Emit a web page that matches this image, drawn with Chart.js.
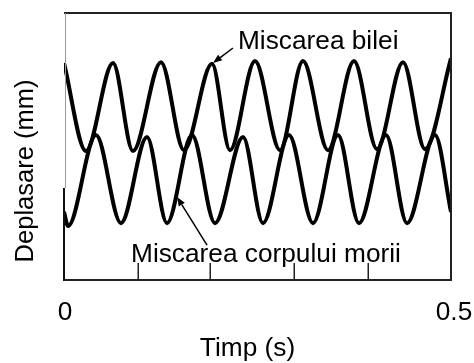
<!DOCTYPE html>
<html>
<head>
<meta charset="utf-8">
<script src="https://cdn.jsdelivr.net/npm/chart.js@4/dist/chart.umd.min.js"></script>
<style>
html,body{margin:0;padding:0;background:#fff;}
#wrap{width:474px;height:363px;}
</style>
</head>
<body>
<div id="wrap"><canvas id="c" width="474" height="363"></canvas></div>
<script>
// ---- data ----
const timeBilei = [0.000, 0.0284, 0.0633, 0.0891, 0.1253, 0.1550, 0.1912, 0.2145, 0.2468, 0.2791, 0.3088, 0.3411, 0.3747, 0.4044, 0.4380, 0.4664, 0.5000];
const dispBilei = [8.13, 4.83, 8.13, 4.83, 8.16, 4.86, 8.10, 4.86, 8.20, 4.86, 8.20, 4.86, 8.20, 4.90, 8.16, 4.90, 8.30];
const timeMorii = [0.000, 0.0052, 0.0413, 0.0736, 0.1072, 0.1331, 0.1654, 0.1951, 0.2313, 0.2571, 0.2907, 0.3217, 0.3540, 0.3811, 0.4160, 0.4432, 0.4793, 0.5000];
const dispMorii = [2.55, 2.02, 5.43, 2.13, 5.36, 2.13, 5.43, 2.13, 5.36, 2.13, 5.43, 2.13, 5.43, 2.13, 5.43, 2.13, 5.43, 2.55];
const seriesNames = ['Miscarea bilei', 'Miscarea corpului morii'];
const xTickValues = [0, 0.5];
const xTickLabels = ['0', '0.5'];
const xMinorTicks = [0.096, 0.189, 0.297, 0.393];
const xTitle = 'Timp (s)';
const yTitle = 'Deplasare (mm)';

// annotation anchors (data units)
const notes = [
  {text: seriesNames[0], tx: 0.2248, ty: 8.65, tail: [0.2183, 8.69], tip: [0.1925, 8.13]},
  {text: seriesNames[1], tx: 0.0866, ty: 0.67, tail: [0.1848, 1.31], tip: [0.1460, 3.11]}
];

const FONT = '"Liberation Sans", Arial, sans-serif';
const STRETCH = 1.05;

function drawText(ctx, text, x, y, align) {
  ctx.save();
  ctx.translate(x, y);
  ctx.scale(STRETCH, 1);
  ctx.textAlign = align;
  ctx.textBaseline = 'alphabetic';
  ctx.fillText(text, 0, 0);
  ctx.restore();
}

function arrow(ctx, x0, y0, x1, y1) {
  ctx.save();
  ctx.strokeStyle = '#000';
  ctx.fillStyle = '#000';
  ctx.lineWidth = 1.5;
  const ang = Math.atan2(y1 - y0, x1 - x0);
  const L = 9, W = 3.5;
  const bx = x1 - L * Math.cos(ang), by = y1 - L * Math.sin(ang);
  ctx.beginPath();
  ctx.moveTo(x0, y0);
  ctx.lineTo(bx, by);
  ctx.stroke();
  ctx.beginPath();
  ctx.moveTo(x1, y1);
  ctx.lineTo(bx + W * Math.sin(ang), by - W * Math.cos(ang));
  ctx.lineTo(bx - W * Math.sin(ang), by + W * Math.cos(ang));
  ctx.closePath();
  ctx.fill();
  ctx.restore();
}

const decor = {
  id: 'decor',
  afterDraw(chart) {
    const ctx = chart.ctx;
    const a = chart.chartArea;
    const xs = chart.scales.x, ys = chart.scales.y;
    ctx.save();
    // frame
    ctx.strokeStyle = '#222';
    ctx.lineWidth = 2;
    ctx.beginPath();
    ctx.moveTo(a.left, a.top);
    ctx.lineTo(a.right, a.top);
    ctx.lineTo(a.right, a.bottom);
    ctx.lineTo(a.left, a.bottom);
    ctx.stroke();
    // left spine: light upper part, dark lower part
    ctx.strokeStyle = '#999';
    ctx.lineWidth = 1;
    ctx.beginPath();
    ctx.moveTo(a.left + 1.5, a.top);
    ctx.lineTo(a.left + 1.5, ys.getPixelForValue(3.45));
    ctx.stroke();
    ctx.strokeStyle = '#111';
    ctx.lineWidth = 2;
    ctx.beginPath();
    ctx.moveTo(a.left, ys.getPixelForValue(3.45));
    ctx.lineTo(a.left, a.bottom + 1);
    ctx.stroke();
    // inside minor ticks
    ctx.strokeStyle = '#222';
    ctx.lineWidth = 1.5;
    xMinorTicks.forEach(v => {
      const px = Math.round(xs.getPixelForValue(v)) + 0.25;
      ctx.beginPath();
      ctx.moveTo(px, a.bottom);
      ctx.lineTo(px, a.bottom - 17);
      ctx.stroke();
    });
    // tick labels
    ctx.fillStyle = '#000';
    ctx.font = '25px ' + FONT;
    xTickValues.forEach((v, i) => {
      drawText(ctx, xTickLabels[i], xs.getPixelForValue(v) + (i === 0 ? 1 : 3), a.bottom + 40, 'center');
    });
    // x title
    drawText(ctx, xTitle, (a.left + a.right) / 2 - 10, a.bottom + 76, 'center');
    // y title (rotated)
    ctx.save();
    ctx.translate(33, 171);
    ctx.rotate(-Math.PI / 2);
    ctx.textAlign = 'center';
    ctx.textBaseline = 'alphabetic';
    ctx.font = '25.5px ' + FONT;
    ctx.fillText(yTitle, 0, 0);
    ctx.restore();
    // annotations
    notes.forEach(n => {
      ctx.font = '25px ' + FONT;
      drawText(ctx, n.text, xs.getPixelForValue(n.tx), ys.getPixelForValue(n.ty), 'left');
      arrow(ctx, xs.getPixelForValue(n.tail[0]), ys.getPixelForValue(n.tail[1]),
                 xs.getPixelForValue(n.tip[0]), ys.getPixelForValue(n.tip[1]));
    });
    ctx.restore();
  }
};

const mk = (ts, vs) => ts.map((t, i) => ({x: t, y: vs[i]}));

new Chart(document.getElementById('c'), {
  type: 'line',
  data: {
    datasets: [
      {label: seriesNames[0], data: mk(timeBilei, dispBilei), borderColor: '#000', borderWidth: 4, pointRadius: 0, cubicInterpolationMode: 'monotone', fill: false},
      {label: seriesNames[1], data: mk(timeMorii, dispMorii), borderColor: '#000', borderWidth: 4, pointRadius: 0, cubicInterpolationMode: 'monotone', fill: false}
    ]
  },
  options: {
    responsive: false,
    animation: false,
    layout: {padding: {left: 64, right: 23, top: 13, bottom: 83}},
    plugins: {legend: {display: false}, tooltip: {enabled: false}, title: {display: false}},
    scales: {
      x: {type: 'linear', min: 0, max: 0.5, display: false},
      y: {type: 'linear', min: 0, max: 10, display: false}
    }
  },
  plugins: [decor]
});
</script>
</body>
</html>
